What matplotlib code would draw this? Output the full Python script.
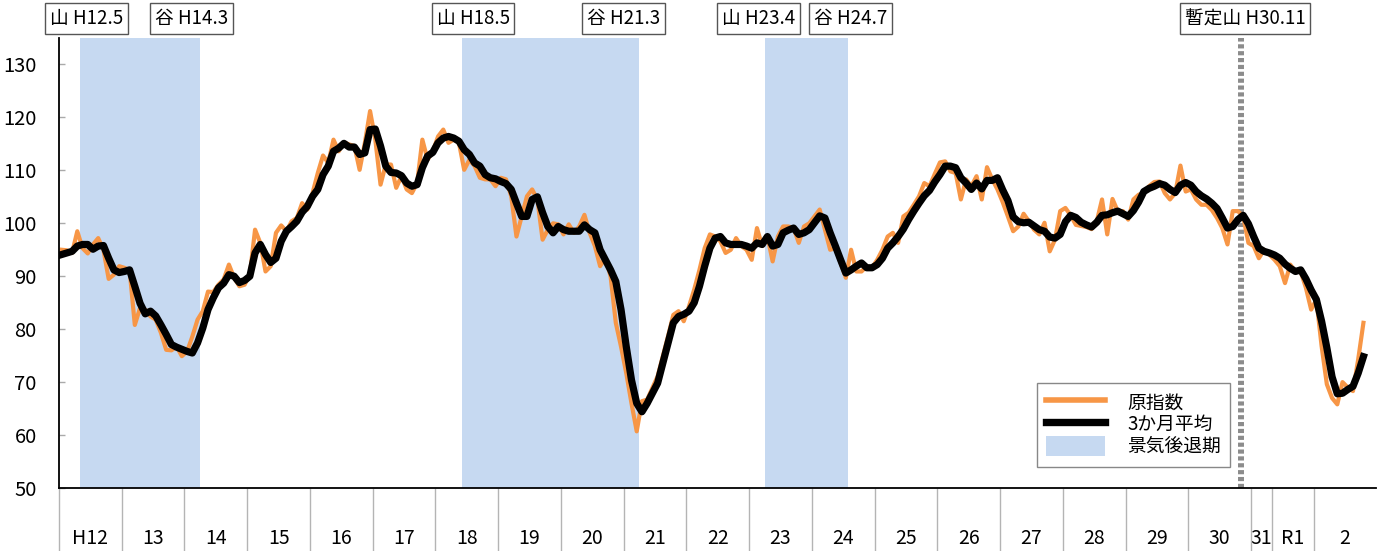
import numpy as np
import matplotlib
matplotlib.use('Agg')
import matplotlib.pyplot as plt
import matplotlib.transforms as mtransforms
from matplotlib.lines import Line2D
from matplotlib.patches import Patch

plt.rcParams['font.family'] = ['Noto Sans CJK JP', 'DejaVu Sans']

# 月次データ H12.1 〜 R2.10
raw_index = [
    95.0, 94.9, 94.4, 98.5, 95.3, 94.3, 96.0, 97.2, 95.0, 89.5, 90.3, 91.9,
    91.6, 91.2, 80.8, 84.0, 83.7, 82.4, 81.8, 79.3, 76.1, 76.0, 76.7, 74.9,
    75.8, 78.6, 81.8, 83.4, 87.1, 87.0, 88.4, 89.4, 92.2, 89.7, 88.1, 88.4,
    90.3, 98.8, 96.3, 90.9, 91.9, 98.2, 99.6, 98.5, 100.4, 101.0, 103.8, 102.6,
    105.7, 109.5, 112.8, 111.4, 115.8, 113.6, 115.3, 114.9, 114.6, 110.1, 115.2, 121.2,
    115.8, 107.3, 111.1, 111.1, 106.7, 108.9, 106.4, 105.7, 107.6, 115.8, 112.0, 113.6,
    116.4, 117.7, 115.2, 115.8, 115.2, 110.1, 112.0, 110.8, 108.6, 108.3, 108.3, 107.0,
    108.6, 108.3, 105.1, 97.5, 101.3, 105.1, 106.4, 104.5, 96.9, 98.8, 100.0, 99.8,
    97.9, 99.8, 98.2, 99.4, 101.6, 98.2, 95.7, 91.9, 93.5, 90.0, 81.2, 76.7,
    71.7, 66.0, 60.7, 66.4, 66.7, 68.9, 71.1, 74.9, 78.7, 82.7, 83.4, 81.5,
    84.3, 87.5, 91.2, 95.3, 97.9, 97.5, 96.6, 94.4, 95.0, 97.2, 95.7, 95.0,
    93.1, 99.1, 95.7, 97.5, 92.8, 97.5, 99.4, 99.4, 99.1, 96.3, 99.4, 100.0,
    101.3, 102.6, 98.8, 95.0, 95.3, 92.5, 89.7, 95.0, 90.9, 90.9, 91.9, 91.6,
    93.1, 95.0, 97.5, 98.2, 96.3, 101.3, 102.0, 103.5, 105.1, 107.6, 107.0, 109.3,
    111.5, 111.7, 109.8, 109.5, 104.5, 108.3, 107.0, 108.9, 104.5, 110.6, 108.3, 106.4,
    104.0, 101.3, 98.5, 99.4, 101.8, 100.4, 98.8, 97.9, 100.1, 94.7, 96.9, 102.3,
    102.9, 101.5, 99.7, 99.5, 99.3, 98.9, 100.4, 104.5, 97.9, 104.6, 102.3, 102.3,
    100.7, 104.5, 105.4, 105.7, 107.0, 107.8, 107.9, 105.7, 104.5, 105.7, 110.9, 106.0,
    106.4, 104.5, 103.5, 103.5, 102.5, 101.0, 99.1, 96.0, 102.3, 102.3, 101.3, 96.3,
    95.7, 93.4, 95.0, 94.1, 93.1, 91.9, 88.7, 92.2, 90.9, 90.9, 87.8, 83.7,
    85.6, 76.8, 69.6, 67.0, 65.8, 70.0, 69.0, 68.3, 74.3, 81.2,
]

avg_3m = [
    94.1, 94.4, 94.7, 95.7, 96.0, 96.0, 95.1, 95.7, 95.8, 93.4, 91.2, 90.7,
    90.9, 91.2, 88.1, 84.9, 82.9, 83.4, 82.5, 80.8, 79.0, 77.1, 76.6, 76.2,
    75.8, 75.5, 77.4, 80.2, 83.7, 85.9, 87.8, 88.7, 90.3, 90.0, 88.8, 89.2,
    90.0, 94.4, 96.0, 94.1, 92.6, 93.4, 96.6, 98.5, 99.4, 100.4, 102.1, 103.2,
    105.1, 106.4, 109.2, 110.8, 113.6, 114.2, 115.1, 114.4, 114.4, 113.0, 113.3, 117.7,
    117.8, 114.6, 110.8, 109.6, 109.5, 109.0, 107.6, 107.0, 107.3, 110.5, 112.7, 113.4,
    115.2, 116.1, 116.4, 116.1, 115.5, 113.9, 113.0, 111.4, 110.8, 109.2, 108.6, 108.4,
    107.9, 107.5, 106.4, 103.8, 101.3, 101.3, 104.5, 105.0, 102.0, 99.4, 98.2, 99.4,
    98.8, 98.5, 98.5, 98.5, 99.7, 98.8, 98.2, 95.0, 93.1, 91.2, 89.0, 83.7,
    76.7, 70.4, 66.0, 64.4, 66.0, 67.9, 69.8, 73.6, 77.4, 81.2, 82.4, 82.8,
    83.4, 85.0, 88.1, 91.9, 95.3, 97.2, 97.5, 96.3, 96.0, 96.0, 96.0, 95.7,
    95.3, 96.3, 96.0, 97.5, 95.7, 96.0, 98.2, 98.7, 99.1, 97.9, 98.2, 98.8,
    100.1, 101.4, 101.0, 98.2, 95.7, 93.1, 90.6, 91.2, 91.9, 92.5, 91.6, 91.6,
    92.2, 93.4, 95.3, 96.3, 97.5, 98.9, 100.7, 102.3, 103.8, 105.2, 106.2, 107.8,
    109.2, 110.8, 110.8, 110.5, 108.6, 107.6, 106.4, 107.6, 106.5, 108.1, 108.1, 108.6,
    106.3, 104.3, 101.2, 100.3, 100.1, 100.2, 99.5, 98.8, 98.5, 97.4, 97.2, 97.9,
    100.3, 101.5, 101.1, 100.2, 99.7, 99.3, 100.2, 101.5, 101.6, 102.0, 102.3, 101.8,
    101.3, 102.4, 104.0, 106.0, 106.6, 107.0, 107.5, 107.2, 106.4, 105.8, 107.2, 107.7,
    107.2, 106.0, 105.2, 104.6, 103.8, 102.8, 101.0, 99.1, 99.4, 100.7, 101.5, 99.9,
    97.5, 95.3, 94.7, 94.4, 94.0, 93.4, 92.3, 91.5, 90.9, 91.2, 89.5, 87.4,
    85.6, 81.5, 76.5, 71.0, 67.8, 67.9, 68.6, 69.2, 71.7, 74.8,
]

# 年区切り（月インデックス）と年ラベル
year_bounds = list(range(0, 229, 12)) + [232, 240, 252]
year_labels = ['H12'] + [str(y) for y in range(13, 32)] + ['R1', '2']

# 景気後退期 (開始月, 終了月)
recessions = [(4, 26), (77, 110), (135, 150)]

# 山・谷の表示 (ラベル, 表示位置)
turning_labels = [
    ('山 H12.5', 4.8), ('谷 H14.3', 24.8),
    ('山 H18.5', 78.7), ('谷 H21.3', 107.5),
    ('山 H23.4', 133.3), ('谷 H24.7', 150.9),
    ('暫定山 H30.11', 226.4),
]
provisional_peak = 226  # H30.11

ORANGE = '#F79646'
SHADE = '#C6D9F1'


def main():
    fig = plt.figure(figsize=(13.81, 5.51), dpi=100)
    ax = fig.add_axes([59 / 1381, 63 / 551, 1317.5 / 1381, 450 / 551])

    x = np.arange(len(raw_index))

    for s, e in recessions:
        ax.axvspan(s - 0.5, e + 0.5, color=SHADE, lw=0, zorder=0)

    ax.axvline(provisional_peak - 0.5, color='#8c8c8c', lw=4.3,
               dashes=(0.7, 0.45), dash_capstyle='butt', zorder=1)

    ax.plot(x, raw_index, color=ORANGE, lw=3, solid_joinstyle='round', zorder=2)
    ax.plot(x, avg_3m, color='black', lw=5.2, solid_joinstyle='round', zorder=3)

    ax.set_xlim(-0.5, 251.5)
    ax.set_ylim(50, 135)
    ax.set_yticks(range(50, 131, 10))

    # x軸：年区切り線と年ラベル
    centers = [(a + b) / 2 - 0.5 for a, b in zip(year_bounds[:-1], year_bounds[1:])]
    ax.set_xticks(centers)
    ax.set_xticklabels(year_labels)
    ax.set_xticks([b - 0.5 for b in year_bounds[:-1]], minor=True)
    ax.tick_params(axis='x', which='major', length=0, pad=29, labelsize=14)
    ax.tick_params(axis='x', which='minor', length=45, width=1, color='#b4b4b4',
                   direction='out')
    ax.tick_params(axis='y', direction='in', length=4, width=1, color='#aaaaaa',
                   labelsize=14.5, pad=16)

    for side in ('top', 'right'):
        ax.spines[side].set_visible(False)
    for side in ('left', 'bottom'):
        ax.spines[side].set_linewidth(1.3)
        ax.spines[side].set_color('black')

    trans = mtransforms.blended_transform_factory(ax.transData, ax.transAxes)
    for label, pos in turning_labels:
        ax.text(pos, 1.043, label, transform=trans, ha='center',
                va='center', fontsize=13.5, clip_on=False,
                bbox=dict(boxstyle='square,pad=0.25', fc='white', ec='#555555', lw=1))

    handles = [
        Line2D([], [], color=ORANGE, lw=4),
        Line2D([], [], color='black', lw=5.3),
        Patch(facecolor=SHADE, edgecolor='none'),
    ]
    leg = ax.legend(handles, ['原指数', '3か月平均', '景気後退期'],
                    loc='upper left', bbox_to_anchor=(1037 / 1381, 168 / 551),
                    bbox_transform=fig.transFigure, borderaxespad=0,
                    fontsize=13.5, handlelength=3.1, handleheight=1.2,
                    handletextpad=1.2, labelspacing=0.05, borderpad=0.5,
                    fancybox=False, framealpha=1)
    leg.get_frame().set_edgecolor('#888888')
    leg.get_frame().set_linewidth(1)

    fig.savefig('out.png', dpi=100)


if __name__ == '__main__':
    main()
